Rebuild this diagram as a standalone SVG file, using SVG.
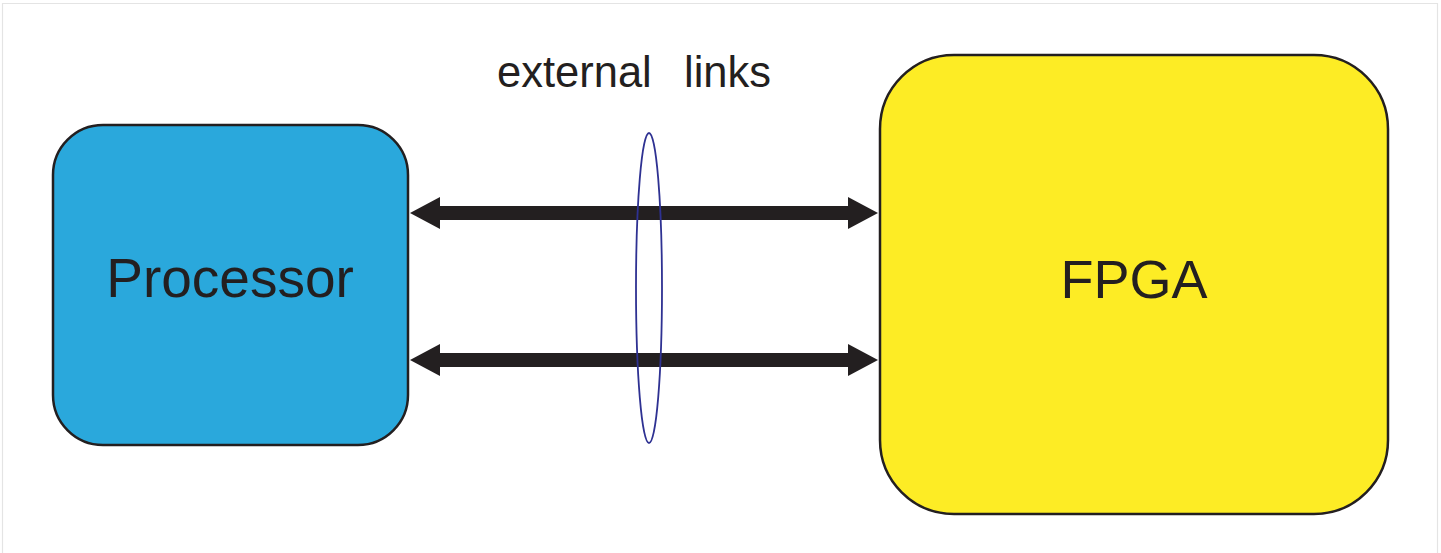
<svg xmlns="http://www.w3.org/2000/svg" width="1441" height="553" viewBox="0 0 1441 553">
  <style>
    .block { stroke: #231f20; stroke-width: 2.5; }
    .label { font-family: "Liberation Sans", Arial, sans-serif; fill: #231f20; }
    .link { fill: none; stroke: #231f20; stroke-width: 14; marker-start: url(#head); marker-end: url(#head); }
    .bundle { fill: none; stroke: #2e3192; stroke-width: 1.8; }
  </style>
  <defs>
    <!-- arrowhead anchored at its base so the shaft ends where the head begins -->
    <marker id="head" viewBox="0 0 30 32" refX="1" refY="16" markerWidth="30" markerHeight="32" markerUnits="userSpaceOnUse" orient="auto-start-reverse">
      <path d="M0,0 L30,16 L0,32 Z" fill="#231f20"/>
    </marker>
  </defs>

  <rect x="0" y="0" width="1441" height="553" fill="#ffffff"/>
  <!-- thin page frame -->
  <path d="M2.5,553 V3.5 H1437.5 V553" fill="none" stroke="#e4e4e4" stroke-width="1.2"/>

  <g id="processor">
    <rect class="block" x="53" y="125" width="355" height="320" rx="50" ry="50" fill="#2aa8dc"/>
    <text class="label" x="230" y="297" font-size="55" text-anchor="middle">Processor</text>
  </g>

  <g id="fpga">
    <rect class="block" x="880" y="55" width="508" height="459" rx="74" ry="74" fill="#fdec25"/>
    <text class="label" x="1134" y="298" font-size="54" text-anchor="middle">FPGA</text>
  </g>

  <g id="connectors">
    <line class="link" x1="439" y1="213" x2="849" y2="213"/>
    <line class="link" x1="439" y1="360" x2="849" y2="360"/>
  </g>

  <g id="external-links">
    <ellipse class="bundle" cx="649" cy="288" rx="13" ry="155"/>
    <text class="label" x="497" y="87" font-size="43.5">external</text>
    <text class="label" x="684" y="87" font-size="43.5">links</text>
  </g>
</svg>
